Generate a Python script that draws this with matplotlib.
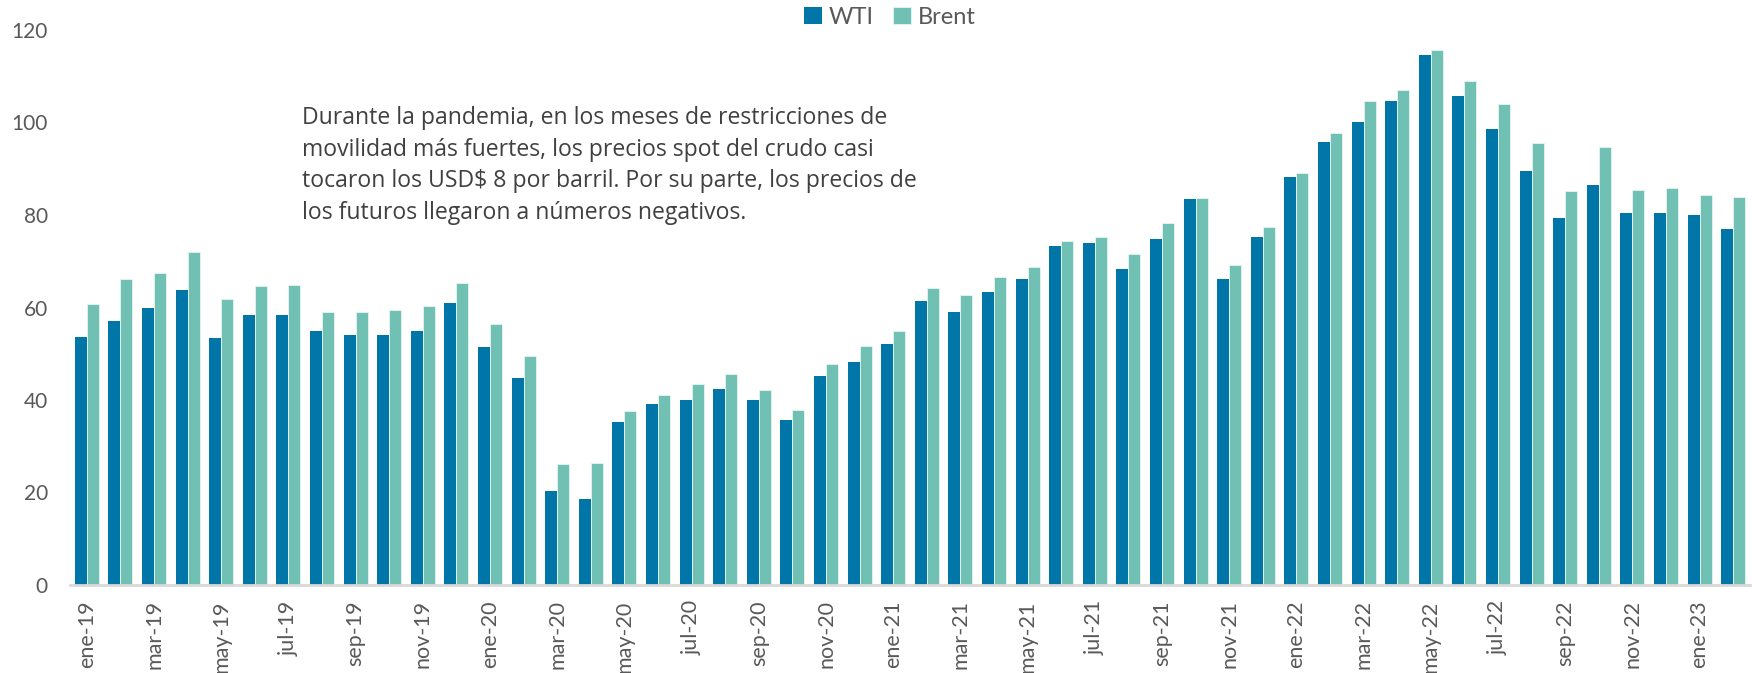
import matplotlib
matplotlib.use("Agg")
import matplotlib.pyplot as plt
import numpy as np

months = ["ene", "feb", "mar", "abr", "may", "jun", "jul", "ago", "sep", "oct", "nov", "dic"]
categories = [f"{months[m]}-{y}" for y in range(19, 24) for m in range(12)][:50]

wti = [53.6, 57.1, 60.0, 63.8, 53.4, 58.3, 58.4, 55.0, 54.0, 54.0, 55.0, 60.9,
       51.5, 44.7, 20.3, 18.7, 35.3, 39.2, 40.0, 42.4, 40.0, 35.6, 45.2, 48.3,
       52.1, 61.4, 59.1, 63.4, 66.2, 73.4, 73.9, 68.3, 74.9, 83.4, 66.1, 75.2,
       88.2, 95.7, 100.2, 104.7, 114.6, 105.8, 98.6, 89.5, 79.3, 86.4, 80.5, 80.4,
       80.0, 77.0]
brent = [60.7, 66.2, 67.5, 71.9, 61.9, 64.7, 64.9, 59.1, 59.1, 59.5, 60.4, 65.2,
         56.5, 49.6, 26.2, 26.3, 37.6, 41.1, 43.4, 45.6, 42.1, 37.8, 47.7, 51.7,
         54.9, 64.3, 62.6, 66.6, 68.8, 74.4, 75.3, 71.5, 78.2, 83.7, 69.2, 77.3,
         89.1, 97.8, 104.7, 107.1, 115.7, 109.0, 104.0, 95.6, 85.1, 94.8, 85.3, 85.8,
         84.4, 83.8]
tick_labels = categories[::2]

annotation = ("Durante la pandemia, en los meses de restricciones de\n"
              "movilidad más fuertes, los precios spot del crudo casi\n"
              "tocaron los USD$ 8 por barril. Por su parte, los precios de\n"
              "los futuros llegaron a números negativos.")

plt.rcParams['font.family'] = ['Lato', 'DejaVu Sans']
TXT = "#595959"

fig = plt.figure(figsize=(17.52, 6.73), dpi=100)
ax = fig.add_axes([70/1752, 88/673, (1750-70)/1752, (585-30)/673])

x = np.arange(len(categories))
w = 0.357
ax.bar(x - w/2, wti, width=w, color="#0076A8", label="WTI", linewidth=0)
ax.bar(x + w/2, brent, width=w, color="#70C1B3", label="Brent",
       edgecolor="#E8F5F2", linewidth=0.6)

ax.set_xlim(-0.5, len(categories) - 0.5)
ax.set_ylim(0, 120)
ax.set_yticks(range(0, 121, 20))
ax.set_xticks(x[::2])
ax.set_xticklabels(tick_labels, rotation=90, va="top", ha="center")
ax.tick_params(axis="y", length=0, pad=16, labelsize=15, labelcolor=TXT)
ax.tick_params(axis="x", length=0, pad=11, labelsize=15.5, labelcolor=TXT)

for s in ["top", "right", "left"]:
    ax.spines[s].set_visible(False)
ax.spines["bottom"].set_color("#D9D9D9")
ax.spines["bottom"].set_linewidth(2)

fig.text(302/1752, 1 - 106/673, annotation, fontsize=16.6, color="#404040",
         va="top", ha="left", linespacing=1.42, family=["Open Sans", "DejaVu Sans"])

fig.legend(loc="center", bbox_to_anchor=(890/1752, 1 - 17/673), ncol=2,
           frameon=False, fontsize=17, labelcolor=TXT, handlelength=0.75,
           handleheight=0.75, handletextpad=0.3, columnspacing=0.8)

fig.savefig("out.png", dpi=100)
